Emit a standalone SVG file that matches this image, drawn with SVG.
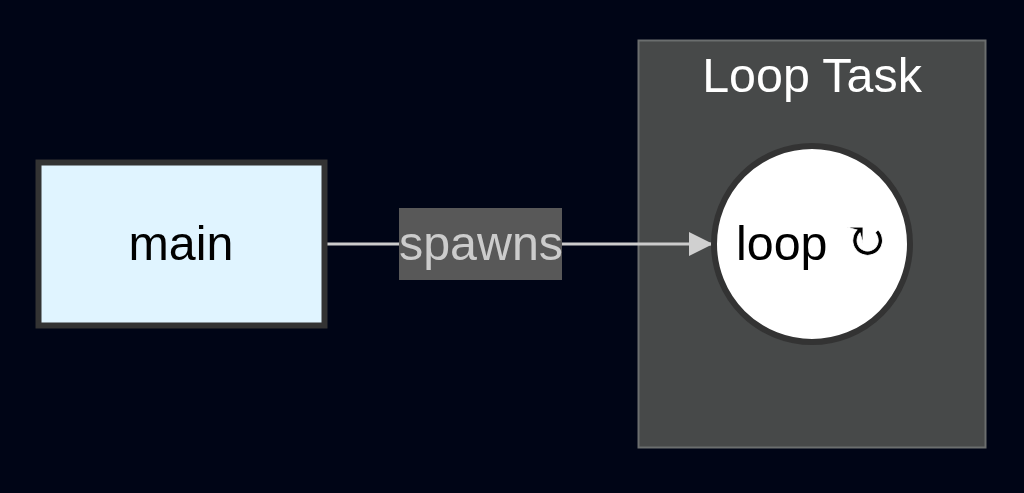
<svg xmlns="http://www.w3.org/2000/svg" width="1024" height="493" viewBox="0 0 1024 493">
<style>
text{font-family:"Liberation Sans",Arial,sans-serif;font-size:48.4px}
.c{text-anchor:middle}
.n{fill:#000}
.g{font-family:"DejaVu Serif",serif;font-size:53px;stroke:#fff;stroke-width:.7px}
</style>
<defs><marker id="a" markerUnits="userSpaceOnUse" markerWidth="24" markerHeight="26" refX="23" refY="13" orient="auto"><path d="M0 1L24 13L0 25z" fill="#d0d0d0"/></marker></defs>
<rect width="1024" height="493" fill="#000516"/>
<g id="cluster-loop-task"><rect x="638.500" y="40.500" width="347" height="407" fill="#474949" stroke="#6b6e6e" stroke-width="2"/><text class="c" x="812" y="92" fill="#fff">Loop Task</text></g>
<g id="connectors"><path d="M327 244H712" fill="none" stroke="#ccc" stroke-width="3" marker-end="url(#a)"/></g>
<g id="edge-label"><rect x="399" y="208" width="163" height="72" fill="#585858"/><text class="c" x="481" y="260" fill="#ccc">spawns</text></g>
<g id="main"><rect x="38.500" y="162.500" width="286" height="163" fill="#e0f4ff" stroke="#333" stroke-width="6"/><text class="n c" x="181" y="260">main</text></g>
<g id="loop"><circle cx="812" cy="244" r="98" fill="#fff" stroke="#333" stroke-width="6"/><text class="n" x="736" y="260">loop <tspan class="g" x="843" y="259">↻</tspan></text></g>
</svg>
